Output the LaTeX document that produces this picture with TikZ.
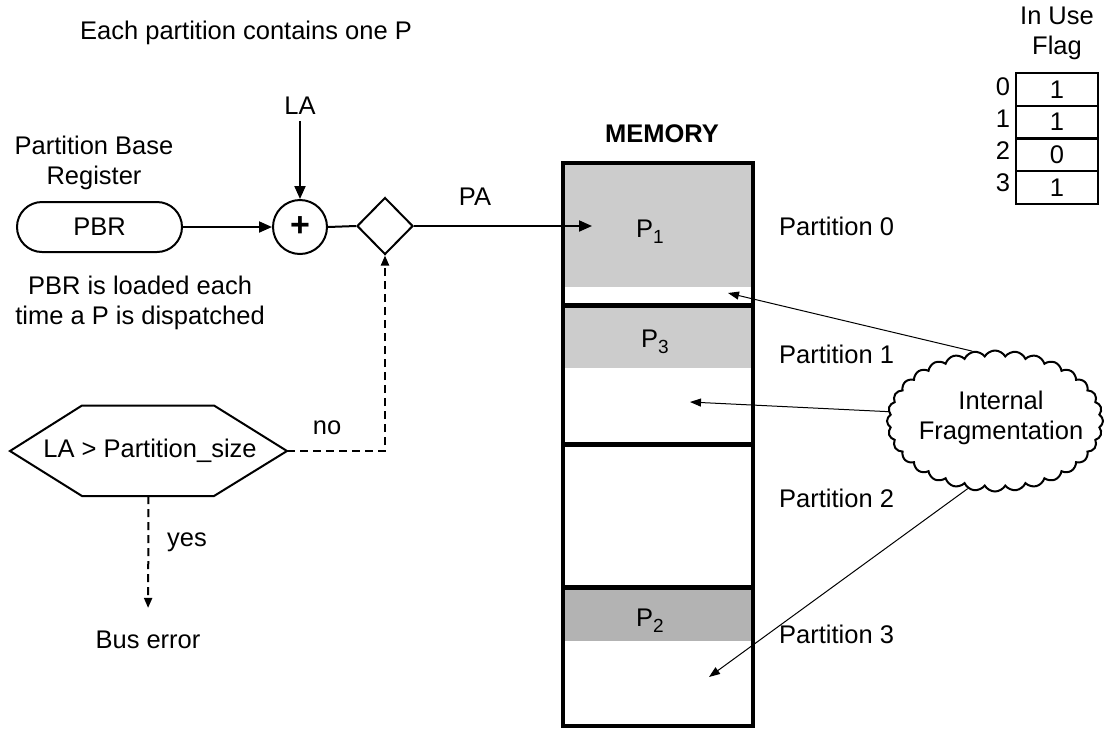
\documentclass[tikz,border=0pt]{standalone}
\usepackage{fontspec}
\setmainfont{Liberation Sans}
\usetikzlibrary{shapes.geometric,shapes.symbols,shapes.misc,arrows.meta}
\definecolor{procgray}{RGB}{204,204,204}
\definecolor{procdark}{RGB}{179,179,179}
\newcommand{\procname}[1]{P\raisebox{-6pt}{\fontsize{19pt}{20pt}\selectfont #1}}

\begin{document}
\begin{tikzpicture}[x=1pt,y=-1pt,
  every node/.style={font=\fontsize{25.5pt}{30pt}\selectfont, inner sep=0pt},
  conn/.style={line width=2pt, -{Triangle[length=13pt,width=11pt]}},
  wire/.style={line width=2pt},
  dasharrow/.style={line width=2pt, dash pattern=on 8pt off 5pt, -{Triangle[length=10pt,width=8pt]}},
  fragarrow/.style={line width=1pt, -{Triangle[length=11pt,width=8pt]}},
  flagbox/.style={draw, line width=2pt, minimum width=82pt, minimum height=32.75pt},
  partlabel/.style={anchor=west}]
\useasboundingbox (0,0) rectangle (1105,729);

% heading
\node (head) at (246,33) {Each partition contains one P};

% address computation
\node (pbrtitle) [align=center] at (94,163) {Partition Base\\Register};
\node (PBR) [rounded rectangle, draw, line width=2pt, minimum width=165pt, minimum height=50pt] at (99.5,227) {PBR};
\node (pbrnote) [align=center] at (140,303) {PBR is loaded each\\time a P is dispatched};
\node (LA) at (300,106) {LA};
\node (plus) [circle, draw, line width=2pt, minimum size=54pt] at (300,227) {\fontsize{34pt}{36pt}\selectfont\bfseries +};
\node (dia) [diamond, draw, line width=2pt, minimum width=56pt, minimum height=57pt] at (385,226) {};
\node (palbl) at (475,197) {PA};

% bounds check: hexagonal decision box
\draw[line width=2pt, line join=miter] (10,451) -- (82,405.5) -- (214,405.5) -- (287,451)
  -- (214,496) -- (82,496) -- cycle;
\node (chk) at (150,451) {LA > Partition\_size};
\coordinate (chkE) at (287,451);
\coordinate (chkS) at (148.5,496);
\node (nolbl) at (327,428) {no};
\node (yeslbl) at (187,542) {yes};
\node (bus) at (148,640) {Bus error};

% memory
\fill[procgray] (563,163) rectangle (753,287);
\fill[procgray] (563,305) rectangle (753,368);
\fill[procdark] (563,587) rectangle (753,641);
\draw[line width=4pt] (563,163) rectangle (753,726);
\draw[line width=5pt] (563,305) -- (753,305);
\draw[line width=5pt] (563,444) -- (753,444);
\draw[line width=5pt] (563,587) -- (753,587);
\node (mem) [font=\fontsize{25.5pt}{30pt}\selectfont\bfseries] at (662,134) {MEMORY};
\node (p1) [anchor=base] at (650,237) {\procname{1}};
\node (p3) [anchor=base] at (655,347) {\procname{3}};
\node (p2) [anchor=base] at (650,626) {\procname{2}};
\node (part0) [partlabel] at (779,226) {Partition 0};
\node (part1) [partlabel] at (779,354) {Partition 1};
\node (part2) [partlabel] at (779,498) {Partition 2};
\node (part3) [partlabel] at (779,634) {Partition 3};

\coordinate (pa) at (592,226);
\coordinate (gap0) at (728,293);
\coordinate (gap1) at (690,402);
\coordinate (gap3) at (709,677);

% fragmentation callout
\node (frag) [cloud, draw, line width=2pt, cloud puffs=32, cloud puff arc=120, cloud ignores aspect,
  minimum width=216pt, minimum height=141pt] at (995,421) {};
\node (fragtext) [align=center] at (1001,417.5) {Internal\\Fragmentation};

% in-use flags
\node (flaghead) [align=center] at (1057,33) {In Use\\Flag};
\node (f0) [flagbox] at (1057,89.4) {1};
\node (f1) [flagbox] at (1057,122.1) {1};
\node (f2) [flagbox] at (1057,154.9) {0};
\node (f3) [flagbox] at (1057,187.6) {1};
\node (i0) at (1003,87) {0};
\node (i1) at (1003,119) {1};
\node (i2) at (1003,151) {2};
\node (i3) at (1003,183) {3};

% connectors
\draw[conn, shorten <=6pt] (LA.south) -- (plus.north);
\draw[conn] (PBR.east) -- (plus.west);
\draw[wire] (plus.east) -- (dia.west);
\draw[conn] (dia.east) -- (pa);
\draw[dasharrow] (chkE) -| (dia.south);
\draw[dasharrow, shorten >=23pt] (chkS) -- (bus.north);
\draw[fragarrow] (frag.108) -- (gap0);
\draw[fragarrow] (frag.175) -- (gap1);
\draw[fragarrow] (frag.248) -- (gap3);
\end{tikzpicture}
\end{document}
